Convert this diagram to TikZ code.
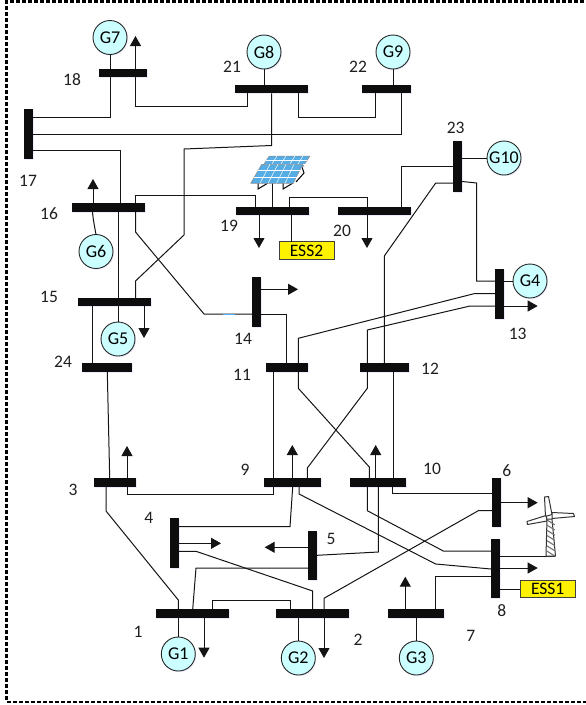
\documentclass[tikz,border=0pt]{standalone}
\usepackage{fontspec}
\setmainfont{Carlito}
\usetikzlibrary{arrows.meta,shadows,calc}
\definecolor{gencol}{HTML}{CCFFFF}
\definecolor{linecol}{HTML}{141414}
\definecolor{pvcol}{HTML}{56ACE4}
\tikzset{
  softshadow/.style={drop shadow={shadow xshift=1pt,shadow yshift=-1.2pt,fill=black!15!blue!35,opacity=.22}},
  busbar/.style={fill=black!95,inner sep=0pt,outer sep=0pt,rectangle,softshadow},
  hbus/.style={busbar,minimum height=8.5pt},
  vbus/.style={busbar,minimum width=9pt},
  gen/.style={circle,draw=black!85,line width=.9pt,fill=gencol,minimum size=34pt,inner sep=0pt,outer sep=0pt,font=\fontsize{18}{18}\selectfont,softshadow},
  ess/.style={rectangle,draw=black!75,line width=.9pt,fill=yellow,inner sep=0pt,outer sep=0pt,font=\fontsize{17.5}{17.5}\selectfont},
  busno/.style={inner sep=0pt,font=\fontsize{17.5}{17.5}\selectfont,text=black!88},
  wire/.style={draw=linecol,line width=1pt},
  load/.style={wire,-{Triangle[length=10pt,width=11pt]}},
  frame/.style={draw=black,line width=2.2pt,dash pattern=on 4pt off 2pt},
  blade/.style={draw=black!80,fill=white,line width=1pt,line join=round},
  panel/.style={fill=pvcol,draw=black!45,line width=.5pt},
  grid/.style={draw=white,line width=.5pt},
}
\begin{document}
\begin{tikzpicture}[x=1pt,y=-1pt]
\useasboundingbox (0,0) rectangle (586,705);
\coordinate (fa) at (590,1.5);
\coordinate (fb) at (6.5,1.5);
\coordinate (fc) at (6.5,701.7);
\coordinate (fd) at (590,701.7);
\draw[frame] (fa) -- (fb) -- (fc) -- (fd);

% buses
\node[hbus,minimum width=48.5pt] (b18) at (122.75,73) {};
\node[hbus,minimum width=73pt] (b21) at (271.5,89) {};
\node[hbus,minimum width=49pt] (b22) at (386.5,89) {};
\node[vbus,minimum height=50pt] (b17) at (28,134) {};
\node[hbus,minimum width=73pt] (b16) at (108.5,207.7) {};
\node[hbus,minimum width=73pt] (b19) at (272.5,211) {};
\node[hbus,minimum width=73pt] (b20) at (374.5,211) {};
\node[vbus,minimum height=51pt] (b23) at (457.5,166.5) {};
\node[hbus,minimum width=73pt] (b15) at (114.5,302) {};
\node[hbus,minimum width=50pt] (b24) at (107,367.5) {};
\node[vbus,minimum height=50pt] (b14) at (256.5,302) {};
\node[hbus,minimum width=42pt] (b11) at (287,367.5) {};
\node[hbus,minimum width=49pt] (b12) at (384.5,367.5) {};
\node[vbus,minimum height=50pt] (b13) at (499.5,294) {};
\node[hbus,minimum width=42pt] (b3) at (115,482.5) {};
\node[hbus,minimum width=57pt] (b9) at (292.5,482.5) {};
\node[hbus,minimum width=56pt] (b10) at (378,482.5) {};
\node[vbus,minimum height=49pt] (b6) at (496.5,502.5) {};
\node[vbus,minimum height=59pt] (b8) at (495.5,568.5) {};
\node[vbus,minimum height=50pt] (b4) at (174.5,543) {};
\node[vbus,minimum height=49pt] (b5) at (312.5,555.5) {};
\node[hbus,minimum width=73pt] (b1) at (192.5,613.5) {};
\node[hbus,minimum width=73pt] (b2) at (312.5,613.5) {};
\node[hbus,minimum width=56pt] (b7) at (416,613.5) {};

% generators
\node[gen] (g7) at (110,37.5) {G7};
\node[gen] (g8) at (264,52) {G8};
\node[gen] (g9) at (393,52) {G9};
\node[gen] (g10) at (504,158) {G10};
\node[gen] (g4) at (530,281) {G4};
\node[gen] (g6) at (96,251.5) {G6};
\node[gen] (g5) at (118,339) {G5};
\node[gen] (g1) at (178.3,654) {G1};
\node[gen] (g2) at (298.3,658) {G2};
\node[gen] (g3) at (416.3,658) {G3};

% storage
\node[ess,minimum width=55pt,minimum height=17.5pt] (ess2) at (306.5,250.5) {ESS2};
\node[ess,minimum width=55pt,minimum height=17.5pt] (ess1) at (547.7,589) {ESS1};

% labels
\foreach \t/\x/\y in {18/72/80,21/232/67,22/358/67,23/455.7/128,17/28/181,16/49/213.5,19/229/226,20/342/231,15/49/297,24/63/362,14/243/339,11/242/375,12/430/368.5,13/517.7/334,3/73/489.5,9/245/470,10/432/469,6/506.7/471,4/148.7/518,5/331/539,1/138/632,2/358/639.5,7/470.7/635.7,8/501.7/610.7}
  \node[busno] (n\t) at (\x,\y) {\t};

% generator stubs
\draw[wire] (g7.south) -- (b18.north -| g7.south);
\draw[wire] (g8.south) -- (b21.north -| g8.south);
\draw[wire] (g9.south) -- (b22.north -| g9.south);
\draw[wire] (g10.west) -- (b23.east |- g10.west);
\draw[wire] (g4.west) -- (b13.east |- g4.west);
\draw[wire] (g5.north) -- (b15.south -| g5.north);
\draw[wire] (g1.north) -- (b1.south -| g1.north);
\draw[wire] (g2.north) -- (b2.south -| g2.north);
\draw[wire] (g3.north) -- (b7.south -| g3.north);
\draw[wire] (g6.north) to[out=100,in=-85] (b16.south -| 92.5,0);

% loads
\draw[load] (b18.north -| 135.5,0) -- (135.5,36);
\draw[load] (b16.north -| 93,0) -- (93,179);
\draw[load] (b19.south -| 259,0) -- (259,248);
\draw[load] (b20.south -| 367,0) -- (367,248);
\draw[load] (b14.east |- 0,289.3) -- (298,289.3);
\draw[load] (b13.east |- 0,306) -- (537.7,306);
\draw[load] (b15.south -| 144,0) -- (144,338);
\draw[load] (b3.north -| 127,0) -- (127,446);
\draw[load] (b9.north -| 292.3,0) -- (292.3,445);
\draw[load] (b10.north -| 375.7,0) -- (375.7,445);
\draw[load] (b6.east |- 0,502.7) -- (537.7,502.7);
\draw[load] (b8.east |- 0,568) -- (537.7,568);
\draw[load] (b4.east |- 0,543.3) -- (221,543.3);
\draw[load] (b5.west |- 0,547.3) -- (264.7,547.3);
\draw[load] (b1.south -| 204,0) -- (204,657.7);
\draw[load] (b2.south -| 324,0) -- (324,658);
\draw[load] (b7.north -| 405.3,0) -- (405.3,576.7);

% lines
\draw[wire] (b18.south -| g7.south) |- (b17.east |- 0,117.5);
\draw[wire] (b18.south -| 135.5,0) |- (247,106) -- (b21.south -| 247,0);
\draw[wire] (b21.south -| 271.5,0) -- (271.5,145.5) -- (184,149) -- (184,235) -- (135.5,281) -- (b15.north -| 135.5,0);
\draw[wire] (b17.east |- 0,134) -- (401,134) -- (b22.south -| 401,0);
\draw[wire] (b21.south -| 298.5,0) -- (298.5,117.5) -- (375.5,117.5) -- (b22.south -| 375.5,0);
\draw[wire] (b17.east |- 0,150) -- (120,150) -- (b16.north -| 120,0);
\draw[wire] (b16.south -| 118.5,0) -- (b15.north -| 118.5,0);
\draw[wire] (b16.north -| 135.5,0) -- (135.5,195) -- (255.7,195) -- (b19.north -| 255.7,0);
\draw[wire] (b16.south -| 135.5,0) -- (135.5,232) -- (204,314) -- (b14.west |- 0,314);
\draw[wire,draw=blue!45!cyan!70] (223,314) -- (235,314);
\draw[wire] (b14.east |- 0,314) -- (286.7,314) -- (b11.north -| 286.7,0);
\draw[wire] (b19.north -| 289.3,0) -- (289.3,197) -- (367,197) -- (b20.north -| 367,0);
\draw[wire] (b19.south -| 291.3,0) -- (ess2.north -| 291.3,0);
\draw[wire] (b20.north -| 401,0) -- (401,166.5) -- (b23.west |- 0,166.5);
\draw[wire] (b23.west |- 0,183) -- (435.7,183) -- (384.3,256) -- (b12.north -| 384.3,0);
\draw[wire] (b23.east |- 0,181.5) -- (476.7,183) -- (476.7,281) -- (b13.west |- 0,281);
\draw[wire] (b13.west |- 0,293.7) -- (474,293.7) -- (298.3,338.3) -- (b11.north -| 298.3,0);
\draw[wire] (b13.west |- 0,306) -- (470,306) -- (367.3,330) -- (b12.north -| 367.3,0);
\draw[wire] (b11.south -| 298.3,0) -- (298.3,388.3) -- (369.3,467) -- (b10.north -| 369.3,0);
\draw[wire] (b12.south -| 367.3,0) -- (367.3,388.3) -- (307.3,468) -- (b9.north -| 307.3,0);
\draw[wire] (b12.south -| 393,0) -- (b10.north -| 393,0);
\draw[wire] (b11.south -| 273,0) -- (b9.north -| 273,0);
\draw[wire] (b15.south -| 92.7,0) -- (b24.north -| 92.7,0);
\draw[wire] (b24.south -| 107.3,0) -- (b3.north -| 109.7,0);
\draw[wire] (b3.south -| 127,0) -- (127,494) -- (273,494) -- (b9.south -| 273,0);
\draw[wire] (b3.south -| 106,0) -- (106,511) -- (178.3,600) -- (b1.north -| 178.3,0);
\draw[wire] (b1.north -| 192.7,0) -- (196,568) -- (b5.west |- 0,568);
\draw[wire] (b1.north -| 212.7,0) -- (212.7,600) -- (290,600) -- (b2.north -| 290,0);
\draw[wire] (b4.east |- 0,526.7) -- (290,526.7) -- (b9.south -| 292.7,0);
\draw[wire] (b4.east |- 0,551.3) -- (196,551.3) -- (312.7,591) -- (b2.north -| 312.7,0);
\draw[wire] (b5.east |- 0,555.3) -- (378.3,552) -- (b10.south -| 378.3,0);
\draw[wire] (b10.south -| 367.3,0) -- (367.3,510.7) -- (443.3,551) -- (b8.west |- 0,551);
\draw[wire] (b10.south -| 392.7,0) -- (392.7,493.3) -- (b6.west |- 0,493.3);
\draw[wire] (b9.south -| 299,0) -- (299,494) -- (435.7,564) -- (b8.west |- 0,569);
\draw[wire] (b2.north -| 324,0) -- (324,598.3) -- (478.3,510.7) -- (b6.west |- 0,510.7);
\draw[wire] (b7.north -| 435.7,0) -- (435.7,576.3) -- (b8.west |- 0,576.3);
\draw[wire] (b8.east |- 0,589) -- (ess1.west);

% PV array
\coordinate (pvfoot) at (272.7,183);
\draw[wire] (pvfoot) -- (b19.north -| pvfoot);
\draw[draw=black,line width=1pt] (302,167) -- (304,173) -- (296,182);
\draw[panel] (269.3,156) -- (310,156) -- (302.7,167) -- (262,167) -- cycle;
\draw[grid] (266,160) -- (307,160) (263.5,164) -- (304.5,164);
\foreach \a/\b in {277/270,286/279,295/288,303/296}
  \draw[grid] (\a,156) -- (\b,167);
\draw[draw=black,line width=1pt] (258,183) -- (258,189) -- (268,183);
\draw[draw=black,line width=1pt] (283,183) -- (283,189) -- (293,183);
\draw[panel] (261.7,164.3) -- (302.7,164.3) -- (293.3,183.3) -- (250.7,183.3) -- cycle;
\draw[grid] (257.5,170.5) -- (299.7,170.5) (254.3,177) -- (296.5,177);
\foreach \a/\b in {270/260,278/268,286/276.5,294/285}
  \draw[grid] (\a,164.3) -- (\b,183.3);

% wind turbine
\coordinate (tb) at (555,556);
\draw[wire] (b8.east |- tb) -- (tb);
\draw[blade] (547,519) -- (552,519) -- (555.5,556) -- (546,556) -- cycle;
\foreach \p in {0,1,...,6}
  \draw[draw=black!55,line width=1.1pt] (546.8,{551-5.2*\p}) -- (554.8,{556-5.2*\p});
\draw[blade] (544.5,497) -- (548.5,496.5) -- (552,514.5) -- (545.5,516.5) -- cycle;
\draw[blade] (552,512.5) -- (573.5,513.5) -- (574.5,516.5) -- (552,518.5) -- cycle;
\draw[blade] (546,515.5) -- (527,521.5) -- (527.5,524.5) -- (547,521) -- cycle;
\end{tikzpicture}
\end{document}
